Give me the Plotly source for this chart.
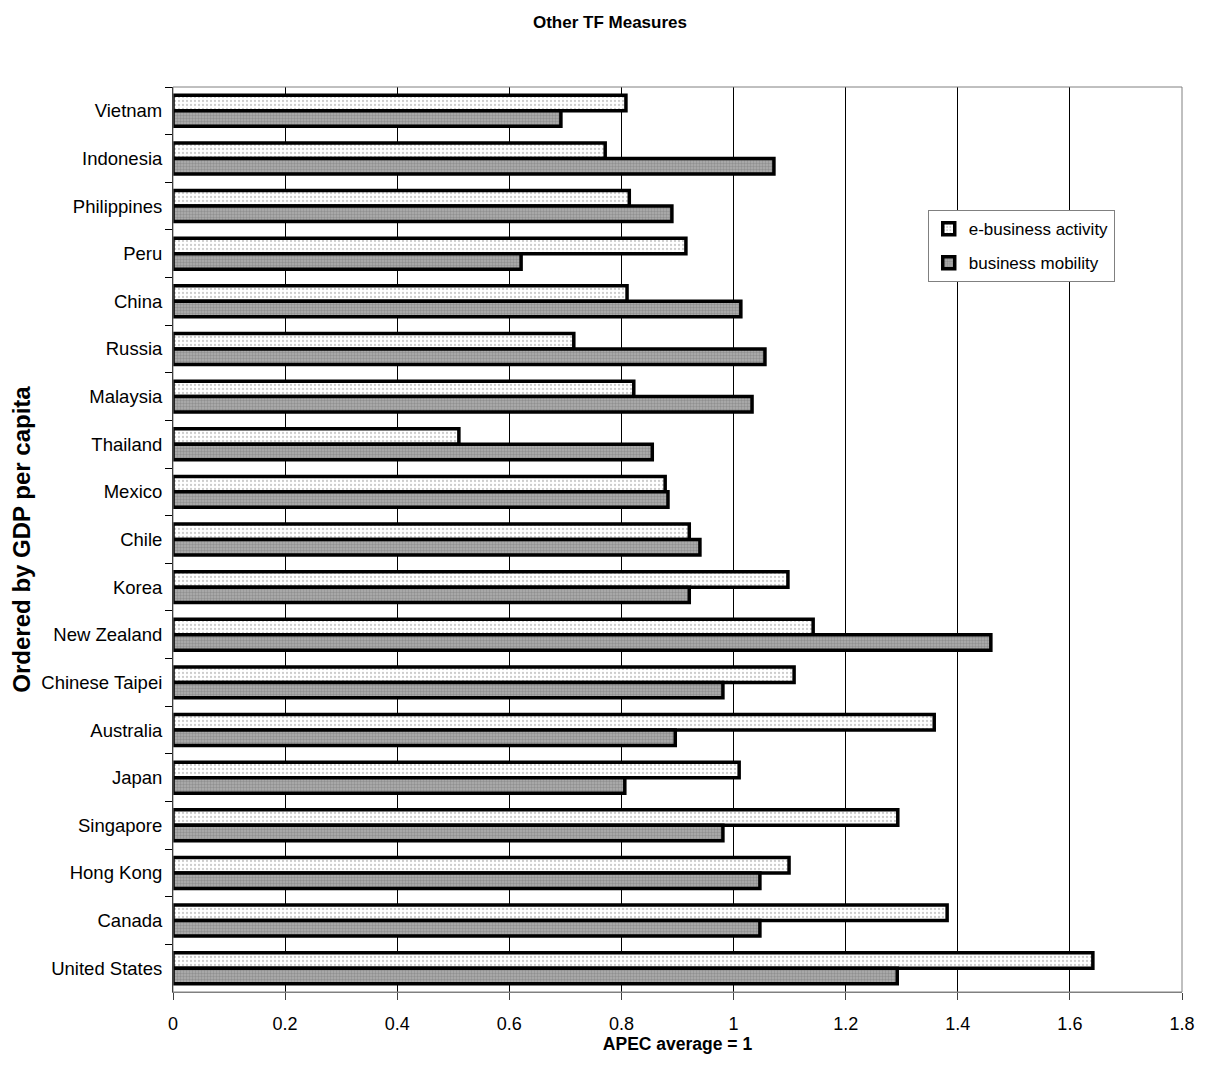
import plotly.graph_objects as go

countries = ["Vietnam", "Indonesia", "Philippines", "Peru", "China", "Russia", "Malaysia",
             "Thailand", "Mexico", "Chile", "Korea", "New Zealand", "Chinese Taipei",
             "Australia", "Japan", "Singapore", "Hong Kong", "Canada", "United States"]
ebusiness = [0.808, 0.771, 0.814, 0.915, 0.810, 0.715, 0.822, 0.510, 0.878, 0.921,
             1.097, 1.142, 1.108, 1.358, 1.010, 1.293, 1.099, 1.381, 1.641]
mobility = [0.692, 1.072, 0.890, 0.621, 1.013, 1.056, 1.033, 0.855, 0.883, 0.940,
            0.921, 1.459, 0.981, 0.896, 0.806, 0.981, 1.047, 1.047, 1.292]
x_ticks = [0, 0.2, 0.4, 0.6, 0.8, 1, 1.2, 1.4, 1.6, 1.8]
x_tick_text = ["0", "0.2", "0.4", "0.6", "0.8", "1", "1.2", "1.4", "1.6", "1.8"]

FONT = "Liberation Sans, Arial, sans-serif"

fig = go.Figure()
fig.add_trace(go.Bar(
    y=countries, x=ebusiness, orientation="h", name="e-business activity",
    legendgroup="a",
    marker=dict(color="white",
                pattern=dict(shape=".", fgcolor="#9a9a9a", bgcolor="white", size=4, solidity=0.25),
                line=dict(color="black", width=3.5)),
))
fig.add_trace(go.Bar(
    y=countries, x=mobility, orientation="h", name="business mobility",
    legendgroup="b",
    marker=dict(color="#a0a0a0",
                pattern=dict(shape=".", fgcolor="#707070", bgcolor="#b0b0b0", size=3, solidity=0.5),
                line=dict(color="black", width=3.5)),
))

# page body has an 8px margin: figure sized/margined to land at the reference pixel positions
fig.update_layout(
    width=1198, height=1072,
    paper_bgcolor="white", plot_bgcolor="white",
    margin=dict(l=165, r=24, t=79, b=88),
    barmode="group", bargap=0.35, bargroupgap=0,
    font=dict(family=FONT, size=18, color="black"),
    title=dict(text="<b>Other TF Measures</b>", x=0.5025, xanchor="center", y=0.987, yanchor="middle",
               font=dict(family=FONT, size=17, color="black")),
    legend=dict(x=0.748, y=0.864, xanchor="left", yanchor="top",
                bordercolor="#808080", borderwidth=1, bgcolor="white",
                traceorder="grouped", font=dict(family=FONT, size=17),
                itemwidth=30, tracegroupgap=9),
    showlegend=True,
)
fig.update_xaxes(
    range=[0, 1.8], tickvals=x_ticks, ticktext=x_tick_text,
    showgrid=True, gridcolor="black", gridwidth=1,
    showline=True, linecolor="#808080", linewidth=1,
    ticks="outside", ticklen=7, tickcolor="#404040", ticklabelstandoff=8,
    tickfont=dict(family=FONT, size=18), zeroline=False,
    title=dict(text="<b>APEC average = 1</b>", font=dict(family=FONT, size=17.5), standoff=0),
)
fig.update_yaxes(
    autorange="reversed", showgrid=False,
    showline=True, linecolor="black", linewidth=1,
    ticks="outside", ticklen=7, tickson="boundaries", tickcolor="black",
    ticklabelstandoff=6,
    tickfont=dict(family=FONT, size=18.5),
    title=dict(text="<b>Ordered by GDP per capita</b>",
               font=dict(family=FONT, size=24), standoff=4),
)
fig.add_shape(type="rect", xref="paper", yref="paper", x0=0, x1=1, y0=0, y1=1,
              line=dict(color="#808080", width=1), layer="above")

fig.write_html("out.html")
